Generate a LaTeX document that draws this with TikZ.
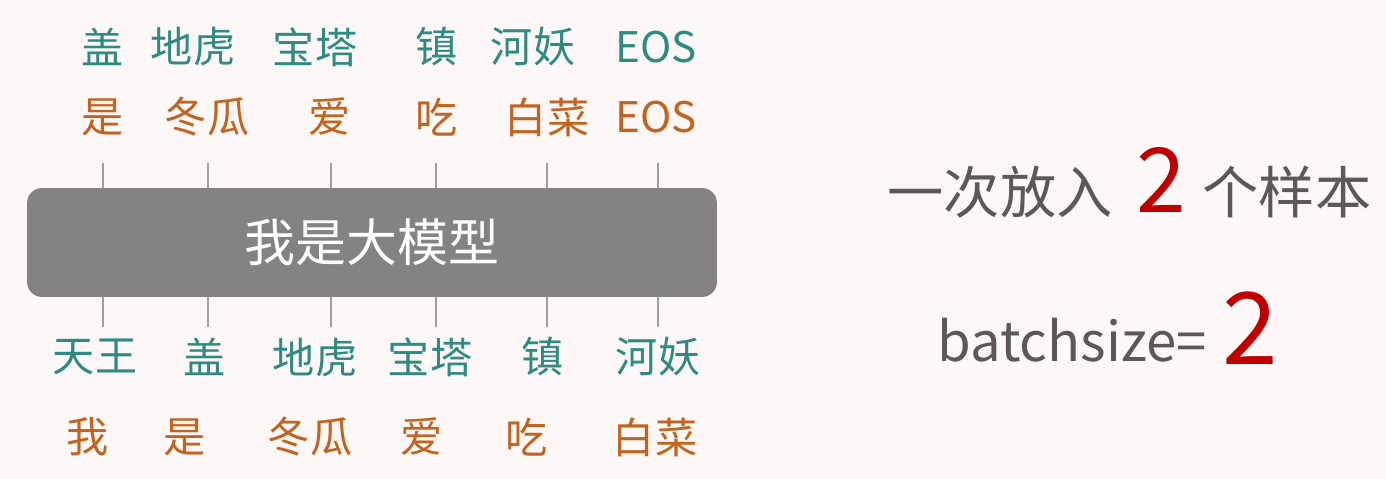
\documentclass[tikz,border=0pt]{standalone}
\usepackage{fontspec}
\setmainfont{Noto Sans CJK SC}
\usetikzlibrary{positioning}
\definecolor{BgClr}{HTML}{FDF7F7}
\definecolor{TgtClr}{HTML}{2E8B80}
\definecolor{InpClr}{HTML}{C2641E}
\definecolor{ModelClr}{HTML}{858285}
\definecolor{TextClr}{HTML}{5A5858}
\definecolor{NumClr}{HTML}{C00000}

\begin{document}
\begin{tikzpicture}[x=0.02cm,y=-0.02cm,
  tgt/.style={text=TgtClr,inner sep=0pt,font=\fontsize{24}{24}\selectfont},
  inp/.style={text=InpClr,inner sep=0pt,font=\fontsize{24}{24}\selectfont},
  tick/.style={draw=gray!75,line width=0.6pt},
  note/.style={text=TextClr,inner sep=0pt,font=\fontsize{32}{32}\selectfont},
  num/.style={text=NumClr,inner sep=0pt}]

\fill[BgClr] (0,0) rectangle (1386,479);
\useasboundingbox (0,0) rectangle (1386,479);

% the model
\node[fill=ModelClr,rounded corners=0.3cm,minimum width=13.8cm,minimum height=2.18cm,
  text=white,font=\fontsize{29}{29}\selectfont] (mdl) at (372,242.5) {我是大模型};

% targets above
\node[tgt] (o1) at (103,47) {盖};
\node[tgt] (o2) at (193,47) {地虎};
\node[tgt] (o3) at (315,47) {宝塔};
\node[tgt] (o4) at (437,47) {镇};
\node[tgt] (o5) at (533,47) {河妖};
\node[tgt] (o6) at (656,47) {EOS};

\node[inp] (p1) at (103,117) {是};
\node[inp] (p2) at (207,117) {冬瓜};
\node[inp] (p3) at (330,117) {爱};
\node[inp] (p4) at (437,117) {吃};
\node[inp] (p5) at (547,117) {白菜};
\node[inp] (p6) at (656,117) {EOS};

\coordinate (a1) at (103,163);
\coordinate (a2) at (208,163);
\coordinate (a3) at (331,163);
\coordinate (a4) at (436,163);
\coordinate (a5) at (547,163);
\coordinate (a6) at (658,163);
\draw[tick] (mdl.north -| a1) -- (a1);
\draw[tick] (mdl.north -| a2) -- (a2);
\draw[tick] (mdl.north -| a3) -- (a3);
\draw[tick] (mdl.north -| a4) -- (a4);
\draw[tick] (mdl.north -| a5) -- (a5);
\draw[tick] (mdl.north -| a6) -- (a6);

% samples below
\coordinate (b1) at (103,327);
\coordinate (b2) at (208,327);
\coordinate (b3) at (331,327);
\coordinate (b4) at (436,327);
\coordinate (b5) at (547,327);
\coordinate (b6) at (658,327);
\draw[tick] (mdl.south -| b1) -- (b1);
\draw[tick] (mdl.south -| b2) -- (b2);
\draw[tick] (mdl.south -| b3) -- (b3);
\draw[tick] (mdl.south -| b4) -- (b4);
\draw[tick] (mdl.south -| b5) -- (b5);
\draw[tick] (mdl.south -| b6) -- (b6);

\node[tgt] (q1) at (95,357) {天王};
\node[tgt] (q2) at (205,357) {盖};
\node[tgt] (q3) at (315,357) {地虎};
\node[tgt] (q4) at (430,357) {宝塔};
\node[tgt] (q5) at (543,357) {镇};
\node[tgt] (q6) at (658,357) {河妖};

\node[inp] (r1) at (88,437) {我};
\node[inp] (r2) at (185,437) {是};
\node[inp] (r3) at (310,437) {冬瓜};
\node[inp] (r4) at (422,437) {爱};
\node[inp] (r5) at (527,437) {吃};
\node[inp] (r6) at (655,437) {白菜};

% batch note
\node[note] (put) at (1000,192) {一次放入};
\node[num,font=\fontsize{51}{51}\selectfont] (n1) at (1161,180) {2};
\node[note] (smp) at (1287,192) {个样本};
\node[note,anchor=base west,font=\fontsize{31}{31}\selectfont] (bs) at (937,362) {batchsize=};
\node[num,anchor=base west,font=\fontsize{57}{57}\selectfont] (n2) at (1222,365) {2};

\end{tikzpicture}
\end{document}
